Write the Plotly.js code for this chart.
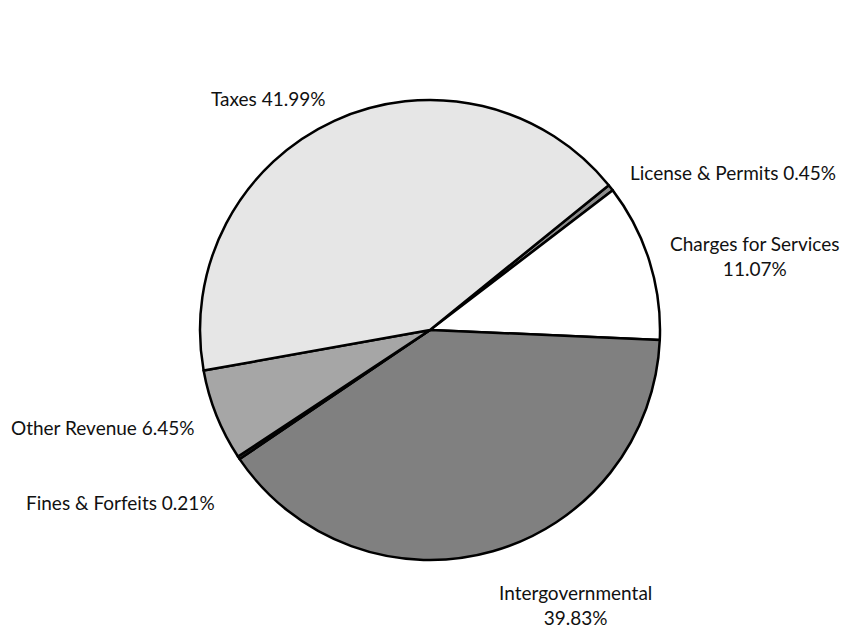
<!DOCTYPE html>
<html><head><meta charset="utf-8">
<script src="https://cdn.plot.ly/plotly-3.0.1.min.js"></script>
<style>html,body{margin:0;padding:0;background:#fff}</style>
</head><body><div id="chart" style="width:841px;height:629px"></div>
<script>
const categories = ["License & Permits", "Charges for Services", "Intergovernmental", "Fines & Forfeits", "Other Revenue", "Taxes"];
const shares = [0.45, 11.07, 39.83, 0.21, 6.45, 41.99];
const sliceColors = ["#8c8c8c", "#ffffff", "#808080", "#3a3a3a", "#a6a6a6", "#e6e6e6"];
// label text layout: line break after category?
const labelBreak = [false, true, true, false, false, false];
// label anchor positions in pixels (style)
const labelPos = [[733,172],[755,256],[575,605],[120,502],[103,427],[268,98]];

const W = 841, H = 629;
const annotations = categories.map((c, i) => ({
  xref: "paper", yref: "paper",
  x: labelPos[i][0] / W, y: 1 - labelPos[i][1] / H,
  xanchor: "center", yanchor: "middle",
  text: c + (labelBreak[i] ? "<br>" : " ") + shares[i].toFixed(2) + "%",
  showarrow: false,
  font: {family: "Lato, 'Open Sans', sans-serif", size: 19, color: "#111111"}
}));

const trace = {
  type: "pie",
  labels: categories,
  values: shares,
  sort: false,
  direction: "clockwise",
  rotation: 51,
  textinfo: "none",
  hoverinfo: "label+percent",
  marker: {colors: sliceColors, line: {color: "#000000", width: 2.5}},
  domain: {x: [0.2, 0.8226], y: [69 / H, 1 - 100 / H]},
  showlegend: false
};

Plotly.newPlot("chart", [trace], {
  width: W, height: H,
  margin: {l: 0, r: 0, t: 0, b: 0},
  paper_bgcolor: "#ffffff",
  showlegend: false,
  annotations: annotations
}, {displayModeBar: false, staticPlot: true});
</script></body></html>
